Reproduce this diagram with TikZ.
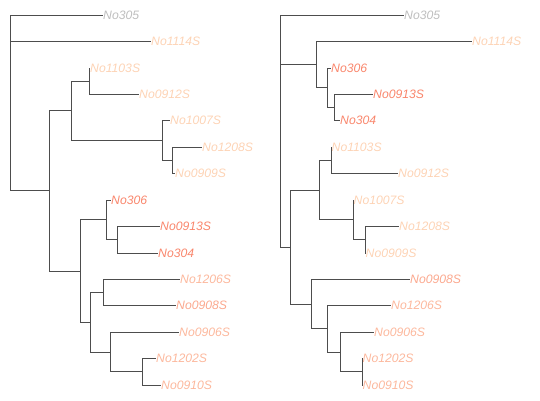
\documentclass[tikz,border=0pt]{standalone}
\usepackage{fontspec}
\setmainfont{Liberation Sans}
\definecolor{cGray}{HTML}{BEBEBE}
\definecolor{cPeachL}{HTML}{FDD3B5}
\definecolor{cPeachM}{HTML}{FCB89D}
\definecolor{cPeachD}{HTML}{FBA88E}
\definecolor{cSalmon}{HTML}{F9866C}
\definecolor{cEdge}{HTML}{4D4D4D}
\begin{document}
\begin{tikzpicture}[x=1pt,y=-1pt,
  tip/.style={anchor=west,inner sep=0pt,font=\fontsize{12.2}{14}\selectfont\itshape},
  inode/.style={coordinate},
  edge/.style={draw=cEdge,line width=0.8pt}]
\useasboundingbox (0,0) rectangle (540,400);
% ---------------- left tree ----------------
\node[inode] (Lroot) at (10,82.4) {};
\node[inode] (LA) at (49,190.8) {};
\node[inode] (LB) at (71,110.5) {};
\node[inode] (LC) at (89,81.1) {};
\node[inode] (LD) at (162,140.4) {};
\node[inode] (LE) at (172,160.4) {};
\node[inode] (LF) at (80,271) {};
\node[inode] (LG) at (106,219.8) {};
\node[inode] (LH) at (117,239.6) {};
\node[inode] (LI) at (90,322.2) {};
\node[inode] (LJ) at (103,292.5) {};
\node[inode] (LK) at (110,352) {};
\node[inode] (LL) at (142,371.8) {};
\node[tip,text=cGray]   (l305)  at (103,15)    {No305};
\node[tip,text=cPeachL] (l1114) at (151,41.4)  {No1114S};
\node[tip,text=cPeachL] (l1103) at (90,67.9)   {No1103S};
\node[tip,text=cPeachL] (l0912) at (139,94.3)  {No0912S};
\node[tip,text=cPeachL] (l1007) at (170,120.7) {No1007S};
\node[tip,text=cPeachL] (l1208) at (202,147.1) {No1208S};
\node[tip,text=cPeachL] (l0909) at (175,173.6) {No0909S};
\node[tip,text=cSalmon] (l306)  at (111,200)   {No306};
\node[tip,text=cSalmon] (l0913) at (160,226.4) {No0913S};
\node[tip,text=cSalmon] (l304)  at (158,252.9) {No304};
\node[tip,text=cPeachM] (l1206) at (180,279.3) {No1206S};
\node[tip,text=cPeachD] (l0908) at (176,305.7) {No0908S};
\node[tip,text=cPeachM] (l0906) at (179,332.1) {No0906S};
\node[tip,text=cPeachM] (l1202) at (156,358.6) {No1202S};
\node[tip,text=cPeachM] (l0910) at (161,385)   {No0910S};
\draw[edge] (Lroot) |- (l305.west);
\draw[edge] (Lroot) |- (l1114.west);
\draw[edge] (Lroot) |- (LA);
\draw[edge] (LA) |- (LB);
\draw[edge] (LA) |- (LF);
\draw[edge] (LB) |- (LC);
\draw[edge] (LB) |- (LD);
\draw[edge] (LC) |- (l1103.west);
\draw[edge] (LC) |- (l0912.west);
\draw[edge] (LD) |- (l1007.west);
\draw[edge] (LD) |- (LE);
\draw[edge] (LE) |- (l1208.west);
\draw[edge] (LE) |- (l0909.west);
\draw[edge] (LF) |- (LG);
\draw[edge] (LF) |- (LI);
\draw[edge] (LG) |- (l306.west);
\draw[edge] (LG) |- (LH);
\draw[edge] (LH) |- (l0913.west);
\draw[edge] (LH) |- (l304.west);
\draw[edge] (LI) |- (LJ);
\draw[edge] (LI) |- (LK);
\draw[edge] (LJ) |- (l1206.west);
\draw[edge] (LJ) |- (l0908.west);
\draw[edge] (LK) |- (l0906.west);
\draw[edge] (LK) |- (LL);
\draw[edge] (LL) |- (l1202.west);
\draw[edge] (LL) |- (l0910.west);
% ---------------- right tree ----------------
\node[inode] (Rroot) at (280,108.9) {};
\node[inode] (RM) at (316,64.6) {};
\node[inode] (RO) at (327,87.7) {};
\node[inode] (RP) at (334,107.5) {};
\node[inode] (RN) at (290,247.1) {};
\node[inode] (RR) at (319,190.1) {};
\node[inode] (RS) at (331,160.4) {};
\node[inode] (RT) at (353,219.8) {};
\node[inode] (RU) at (365,239.6) {};
\node[inode] (RV) at (311,304.1) {};
\node[inode] (RW) at (327,328.8) {};
\node[inode] (RX) at (340.5,352) {};
\node[inode] (RY) at (362,371.8) {};
\node[tip,text=cGray]   (r305)  at (404,15)    {No305};
\node[tip,text=cPeachL] (r1114) at (472,41.4)  {No1114S};
\node[tip,text=cSalmon] (r306)  at (331,67.9)  {No306};
\node[tip,text=cSalmon] (r0913) at (373,94.3)  {No0913S};
\node[tip,text=cSalmon] (r304)  at (340,120.7) {No304};
\node[tip,text=cPeachL] (r1103) at (331.5,147.1) {No1103S};
\node[tip,text=cPeachL] (r0912) at (398,173.6) {No0912S};
\node[tip,text=cPeachL] (r1007) at (353.5,200) {No1007S};
\node[tip,text=cPeachL] (r1208) at (399,226.4) {No1208S};
\node[tip,text=cPeachL] (r0909) at (365.5,252.9) {No0909S};
\node[tip,text=cPeachD] (r0908) at (410,279.3) {No0908S};
\node[tip,text=cPeachM] (r1206) at (391,305.7) {No1206S};
\node[tip,text=cPeachM] (r0906) at (374,332.1) {No0906S};
\node[tip,text=cPeachM] (r1202) at (362.5,358.6) {No1202S};
\node[tip,text=cPeachM] (r0910) at (362.5,385) {No0910S};
\draw[edge] (Rroot) |- (r305.west);
\draw[edge] (Rroot) |- (RM);
\draw[edge] (Rroot) |- (RN);
\draw[edge] (RM) |- (r1114.west);
\draw[edge] (RM) |- (RO);
\draw[edge] (RO) |- (r306.west);
\draw[edge] (RO) |- (RP);
\draw[edge] (RP) |- (r0913.west);
\draw[edge] (RP) |- (r304.west);
\draw[edge] (RN) |- (RR);
\draw[edge] (RN) |- (RV);
\draw[edge] (RR) |- (RS);
\draw[edge] (RR) |- (RT);
\draw[edge] (RS) |- (r1103.west);
\draw[edge] (RS) |- (r0912.west);
\draw[edge] (RT) |- (r1007.west);
\draw[edge] (RT) |- (RU);
\draw[edge] (RU) |- (r1208.west);
\draw[edge] (RU) |- (r0909.west);
\draw[edge] (RV) |- (r0908.west);
\draw[edge] (RV) |- (RW);
\draw[edge] (RW) |- (r1206.west);
\draw[edge] (RW) |- (RX);
\draw[edge] (RX) |- (r0906.west);
\draw[edge] (RX) |- (RY);
\draw[edge] (RY) |- (r1202.west);
\draw[edge] (RY) |- (r0910.west);
\end{tikzpicture}
\end{document}
